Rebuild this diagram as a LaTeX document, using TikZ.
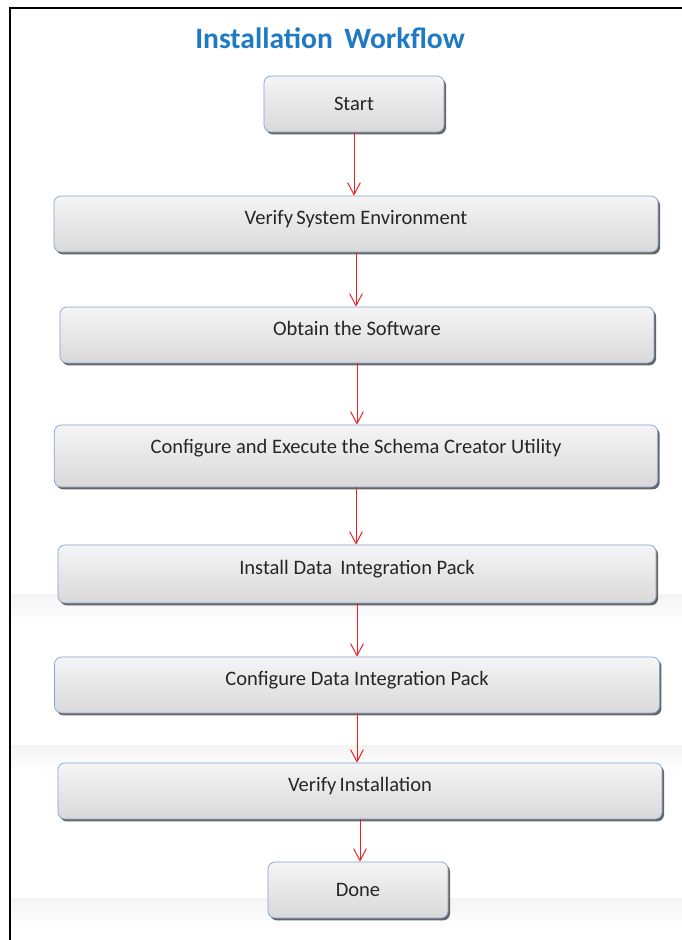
\documentclass[tikz,border=0pt]{standalone}
\usepackage{fontspec}
\setmainfont{Carlito}
\usetikzlibrary{arrows.meta,shadows}
\definecolor{titleblue}{RGB}{30,122,196}
\definecolor{boxline}{RGB}{130,165,210}
\definecolor{flowred}{RGB}{240,30,30}

\begin{document}
\begin{tikzpicture}[x=0.025cm,y=-0.025cm,
  stepbox/.style={draw=boxline,line width=0.5pt,rounded corners=5pt,
    top color=gray!8,bottom color=gray!30,
    drop shadow={shadow xshift=0.05cm,shadow yshift=-0.06cm,fill=black!75,opacity=0.8},
    minimum height=1.4cm,font=\fontsize{14.6}{16}\selectfont,text=black!85},
  widebox/.style={stepbox,text depth=0.32cm},
  flow/.style={draw=flowred,line width=0.7pt,-{Straight Barb[length=0.3cm,width=0.32cm]}},
  band/.style={top color=gray!9,bottom color=white,draw=none}]
  \useasboundingbox (0,0) rectangle (682,940);
  % bandas grises del fondo
  \fill[band] (11,594) rectangle (682,624);
  \fill[band] (11,745) rectangle (682,772);
  \fill[band] (11,898) rectangle (682,928);
  \draw[line width=1.1pt] (682,8) -- (10,8) -- (10,940);
  \node[text=titleblue,font=\fontsize{21}{23}\bfseries] (title) at (330,38) {Installation\, Workflow};
  \node[stepbox,minimum width=4.5cm] (start) at (354,104) {Start};
  \node[widebox,minimum width=15.1cm] (verify) at (356,224) {Verify\kern-1pt\ System Environment};
  \node[widebox,minimum width=14.85cm] (obtain) at (357,335) {Obtain the Software};
  \node[widebox,minimum width=15.08cm,minimum height=1.55cm,text depth=0.5cm] (schema) at (356,456) {Configure and Execute the Schema Creator Utility};
  \node[widebox,minimum width=14.95cm,minimum height=1.45cm] (install) at (357,574) {Install Data\, Integration Pack};
  \node[widebox,minimum width=15.12cm] (configure) at (357,685) {Configure Data Integration Pack};
  \node[widebox,minimum width=15.1cm] (verinst) at (360,791) {Verify\kern-1pt\ Installation};
  \node[stepbox,minimum width=4.5cm] (done) at (358,890) {Done};
  \draw[flow] (start.south) -- (start.south |- verify.north);
  \draw[flow] (verify.south) -- (verify.south |- obtain.north);
  \draw[flow] (obtain.south) -- (obtain.south |- schema.north);
  \draw[flow] (schema.south) -- (schema.south |- install.north);
  \draw[flow] (install.south) -- (install.south |- configure.north);
  \draw[flow] (configure.south) -- (configure.south |- verinst.north);
  \draw[flow] (verinst.south) -- (verinst.south |- done.north);
\end{tikzpicture}
\end{document}
